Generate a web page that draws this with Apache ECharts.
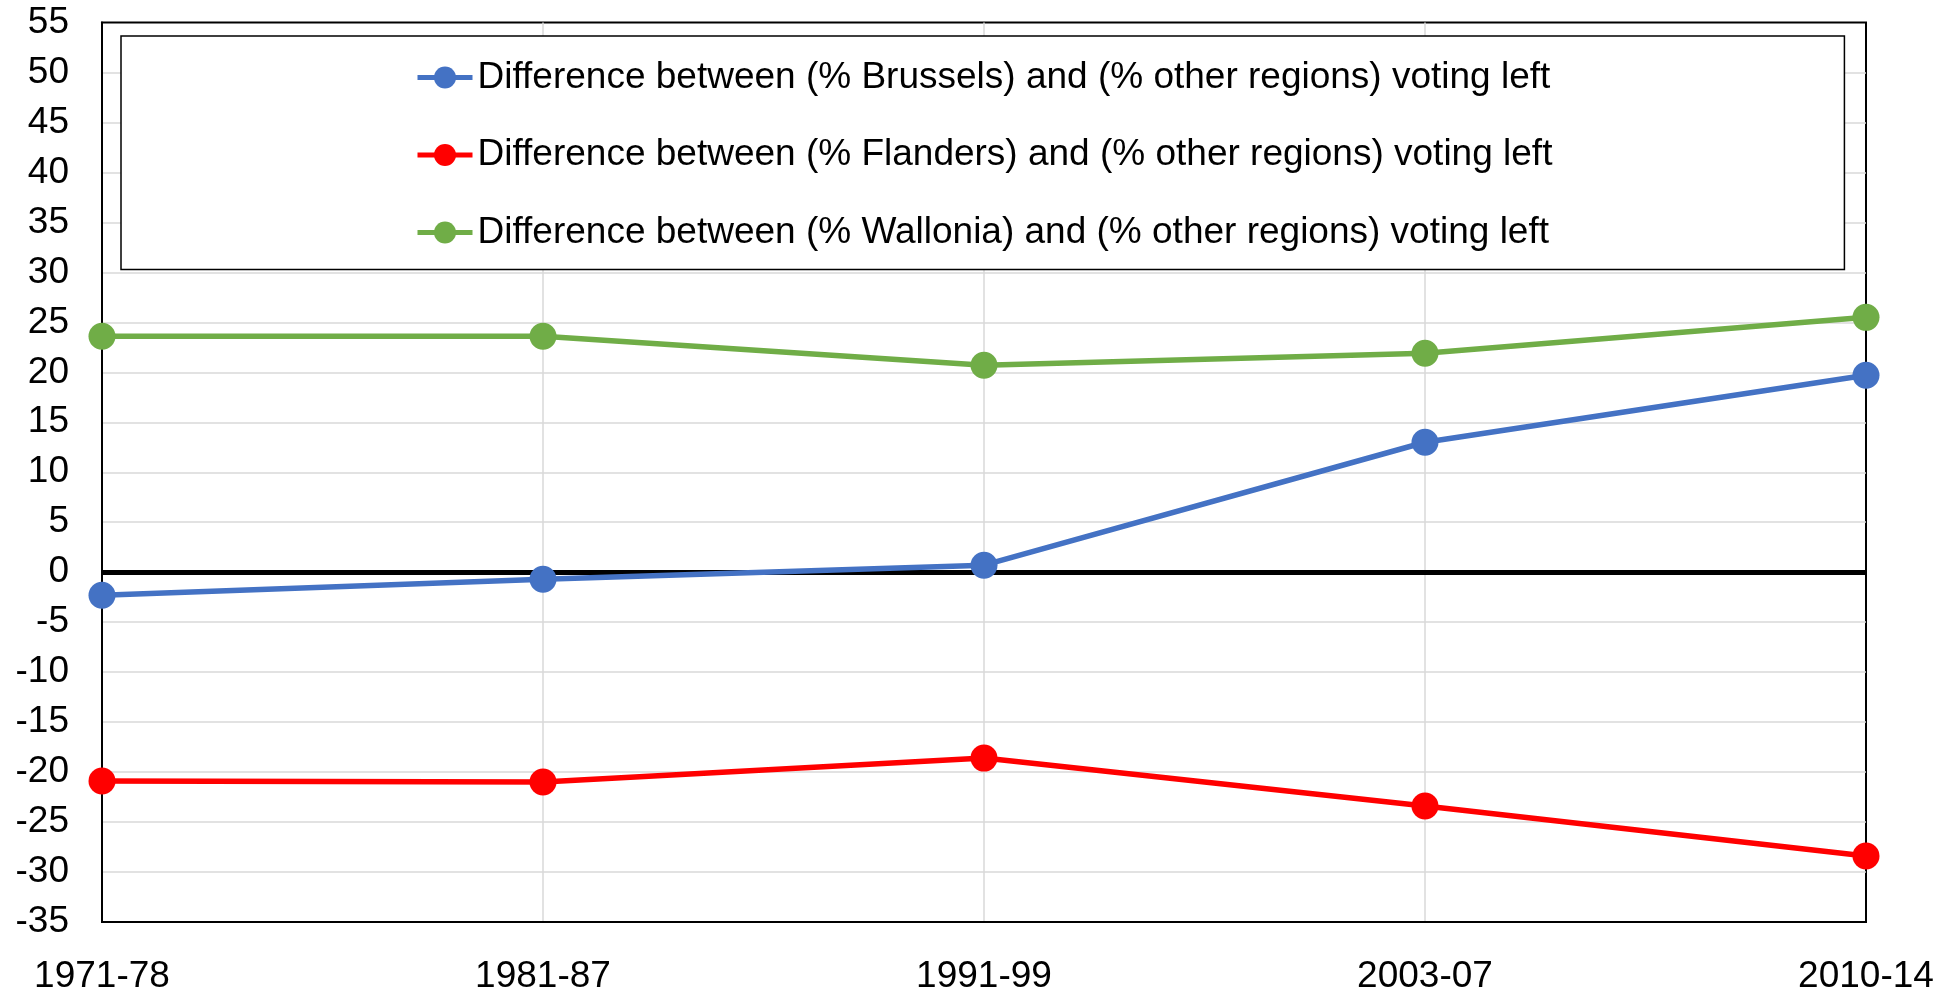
<!DOCTYPE html>
<html>
<head>
<meta charset="utf-8">
<title>Regional left vote differences</title>
<script src="https://cdn.jsdelivr.net/npm/echarts@6/dist/echarts.min.js"></script>
<style>
  html, body { margin: 0; padding: 0; background: #fff; }
  #chart { width: 1959px; height: 995px; }
</style>
</head>
<body>
<div id="chart"></div>
<script>
// periods on the x axis
const periods = ["1971-78", "1981-87", "1991-99", "2003-07", "2010-14"];

// difference in % voting left, region vs other regions
const brussels = [-2.3, -0.7, 0.7, 13.0, 19.7];
const flanders = [-20.9, -21.0, -18.6, -23.4, -28.4];
const wallonia = [23.6, 23.6, 20.7, 21.9, 25.5];

const seriesNames = [
  "Difference between (% Brussels) and (% other regions) voting left",
  "Difference between (% Flanders) and (% other regions) voting left",
  "Difference between (% Wallonia) and (% other regions) voting left"
];
const seriesColors = ["#4472C4", "#FF0000", "#70AD47"];

const FONT = "'Liberation Sans', Arial, sans-serif";

const chart = echarts.init(document.getElementById("chart"));

const makeSeries = (i, data) => ({
  name: seriesNames[i],
  type: "line",
  data: data,
  symbol: "circle",
  symbolSize: 27,
  color: seriesColors[i],
  lineStyle: { width: 5.5, color: seriesColors[i] },
  itemStyle: { color: seriesColors[i] },
  z: 3,
  animation: false
});

const series = [
  makeSeries(0, brussels),
  makeSeries(1, flanders),
  makeSeries(2, wallonia)
];
// thick black line at zero
series[0].markLine = {
  silent: true,
  symbol: "none",
  label: { show: false },
  lineStyle: { color: "#000", width: 5, type: "solid" },
  z: 1,
  data: [{ yAxis: 0 }]
};

chart.setOption({
  animation: false,
  backgroundColor: "#fff",
  grid: {
    left: 102, right: 93, top: 22.5, bottom: 72.5,
    show: true, borderColor: "#000", borderWidth: 2, backgroundColor: "transparent"
  },
  legend: {
    orient: "vertical",
    left: 121, top: 36,
    padding: [23, 292, 18.5, 294],
    itemGap: 40.5,
    itemWidth: 55,
    itemHeight: 27.5,
    backgroundColor: "#fff",
    borderColor: "#000",
    borderWidth: 1.5,
    borderRadius: 0,
    lineStyle: { width: 5 },
    textStyle: { fontFamily: FONT, fontSize: 37, color: "#000" },
    data: seriesNames
  },
  xAxis: {
    type: "category",
    data: periods,
    boundaryGap: false,
    axisLine: { onZero: false, lineStyle: { color: "#000", width: 2 } },
    axisTick: { show: false },
    axisLabel: { fontFamily: FONT, fontSize: 37, color: "#000", margin: 36 },
    splitLine: { show: true, showMinLine: false, showMaxLine: false, lineStyle: { color: "#d9d9d9", width: 1.5 } }
  },
  yAxis: {
    type: "value",
    min: -35, max: 55, interval: 5,
    axisLine: { show: true, lineStyle: { color: "#000", width: 2 } },
    axisTick: { show: false },
    axisLabel: { fontFamily: FONT, fontSize: 37, color: "#000", margin: 33 },
    splitLine: { show: true, showMinLine: false, showMaxLine: false, lineStyle: { color: "#d9d9d9", width: 1.5 } }
  },
  series
});
</script>
</body>
</html>
